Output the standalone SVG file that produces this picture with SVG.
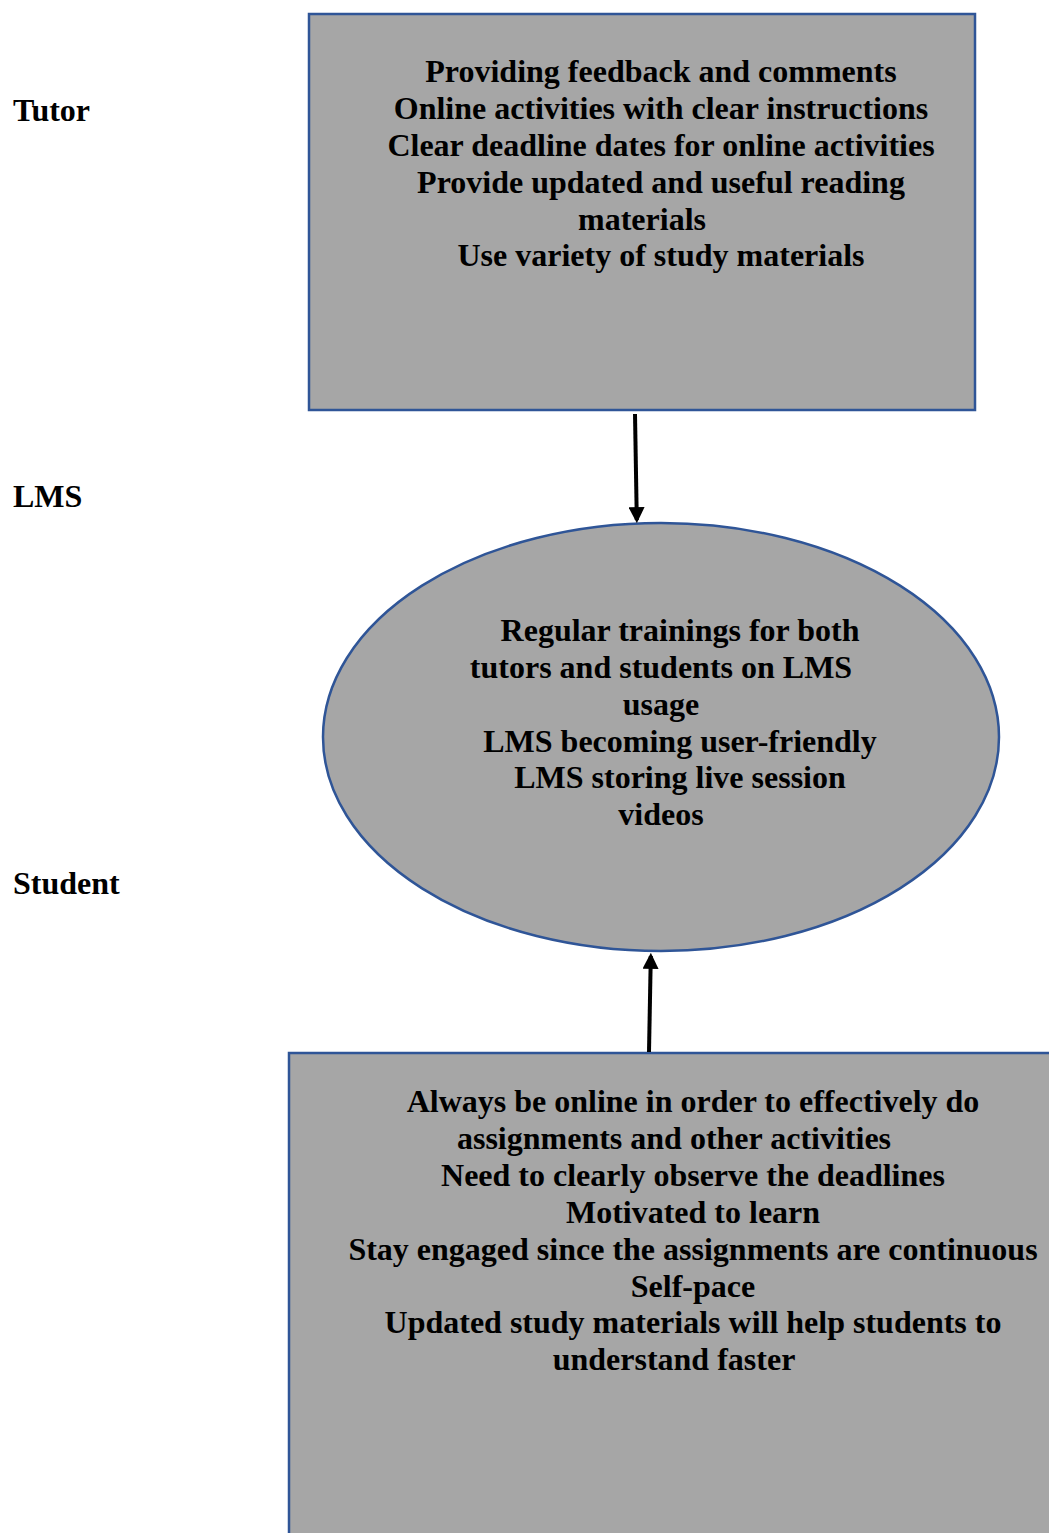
<svg xmlns="http://www.w3.org/2000/svg" width="1049" height="1533" viewBox="0 0 1049 1533">
<defs>
<style>
.t{font-family:"Liberation Serif","Times New Roman",serif;font-weight:bold;font-size:32px;fill:#000;}
.c{text-anchor:middle;}
.shape{fill:#A6A6A6;stroke:#2F5597;stroke-width:2.5;}
.conn{stroke:#000;stroke-width:4;fill:none;}
</style>
<marker id="ah" markerWidth="4" markerHeight="4" refX="3.2" refY="2" orient="auto" markerUnits="strokeWidth">
<path d="M0,0 L4,2 L0,4 Z" fill="#000"/>
</marker>
</defs>
<rect width="1049" height="1533" fill="#fff"/>
<g id="labels">
<text class="t" x="13" y="121">Tutor</text>
<text class="t" x="13" y="507">LMS</text>
<text class="t" x="13" y="894">Student</text>
</g>
<g id="tutor">
<rect class="shape" x="309" y="14" width="666" height="396"/>
<text class="t c" x="661" y="82">Providing feedback and comments</text>
<text class="t c" x="661" y="119">Online activities with clear instructions</text>
<text class="t c" x="661" y="156">Clear deadline dates for online activities</text>
<text class="t c" x="661" y="193">Provide updated and useful reading</text>
<text class="t c" x="642" y="230">materials</text>
<text class="t c" x="661" y="266">Use variety of study materials</text>
</g>
<g id="lms">
<ellipse class="shape" cx="661" cy="737" rx="338" ry="214"/>
<text class="t c" x="680" y="641">Regular trainings for both</text>
<text class="t c" x="661" y="678">tutors and students on LMS</text>
<text class="t c" x="661" y="715">usage</text>
<text class="t c" x="680" y="752">LMS becoming user-friendly</text>
<text class="t c" x="680" y="788">LMS storing live session</text>
<text class="t c" x="661" y="825">videos</text>
</g>
<g id="student">
<rect class="shape" x="289" y="1053" width="780" height="500"/>
<text class="t c" x="693" y="1112">Always be online in order to effectively do</text>
<text class="t c" x="674" y="1149">assignments and other activities</text>
<text class="t c" x="693" y="1186">Need to clearly observe the deadlines</text>
<text class="t c" x="693" y="1223">Motivated to learn</text>
<text class="t c" x="693" y="1260">Stay engaged since the assignments are continuous</text>
<text class="t c" x="693" y="1297">Self-pace</text>
<text class="t c" x="693" y="1333">Updated study materials will help students to</text>
<text class="t c" x="674" y="1370">understand faster</text>
</g>
<g id="connectors">
<line class="conn" x1="635" y1="414" x2="636.8" y2="520" marker-end="url(#ah)"/>
<line class="conn" x1="649" y1="1052" x2="650.8" y2="956" marker-end="url(#ah)"/>
</g>
</svg>
